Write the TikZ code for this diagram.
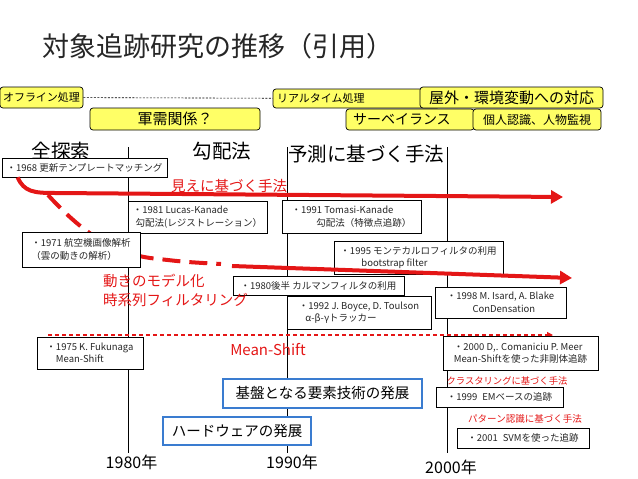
\documentclass[tikz,border=0pt]{standalone}
\usepackage{fontspec}
\setmainfont{Noto Sans CJK JP}
\usepackage{xcolor}
\usetikzlibrary{arrows.meta}
\definecolor{tyellow}{RGB}{255,255,102}
\definecolor{tred}{RGB}{228,22,22}
\definecolor{tblue}{RGB}{58,124,208}

\begin{document}
\begin{tikzpicture}[
  x=1pt, y=-1pt,
  ybox/.style={draw, line width=0.7pt, fill=tyellow, rounded corners=3pt,
    inner sep=0pt, font=\fontsize{11}{13}\selectfont},
  evt/.style={draw, line width=0.7pt, fill=white, align=left, inner sep=0pt,
    text=black!85, font=\fontsize{9.5}{12.5}\selectfont},
  bbox/.style={draw=tblue, line width=2pt, fill=white, inner sep=0pt,
    font=\fontsize{14.5}{16}\selectfont},
  hd/.style={inner sep=0pt, font=\fontsize{19.5}{22}\selectfont},
  yr/.style={inner sep=0pt, font=\fontsize{16}{18}\selectfont},
  rtxt/.style={text=tred, inner sep=0pt},
  era/.style={line width=0.8pt},
  bigarr/.style={tred, line width=4pt, -{Triangle[length=12pt,width=13pt]}},
  thinarr/.style={color=tred, line width=1.2pt, dash pattern=on 4pt off 3pt,
    -{Triangle[length=6pt,width=6pt]}}
]
\useasboundingbox (0,0) rectangle (638,479);

% Title
\node[anchor=west, inner sep=0pt, text=black!85,
  font=\fontsize{27}{30}\selectfont] (title) at (42,46) {対象追跡研究の推移（引用）};

% Time axis
\coordinate (t80) at (128,147);
\coordinate (b80) at (128,453);
\coordinate (t90) at (287,147);
\coordinate (b90) at (287,453);
\coordinate (t00) at (447,147);
\coordinate (b00) at (447,453);
\draw[era] (t80) -- (b80);
\draw[era] (t90) -- (b90);
\draw[era] (t00) -- (b00);
\node[yr] (y80) at (131.5,462) {1980年};
\node[yr] (y90) at (292,462) {1990年};
\node[yr] (y00) at (451,467) {2000年};

% Processing mode
\node[ybox, minimum width=83, minimum height=21] (offline) at (41.5,97.5) {オフライン処理};
\node[ybox, minimum height=19, text width=159, inner xsep=4pt, align=left]
  (realtime) at (356.5,98.5) {リアルタイム処理};
\node[ybox, minimum width=183, minimum height=21, font=\fontsize{15}{17}\selectfont]
  (outdoor) at (511.5,97.5) {屋外・環境変動への対応};
\draw[line width=0.6pt, dash pattern=on 2pt off 1.5pt] (offline) -- (realtime);

% Applications
\node[ybox, minimum width=170, minimum height=22, font=\fontsize{15}{17}\selectfont]
  (military) at (175,119) {軍需関係？};
\node[ybox, minimum height=21, text width=114, inner xsep=7pt, align=left,
  font=\fontsize{14}{16}\selectfont] (surv) at (410,119.5) {サーベイランス};
\node[ybox, minimum width=128, minimum height=21, font=\fontsize{12}{14}\selectfont]
  (person) at (537,119.5) {個人認識、人物監視};

% Headers
\node[hd] (hdfull) at (61,151) {全探索};
\node[hd] (hdgrad) at (222,151) {勾配法};
\node[hd] (hdpred) at (366,154) {予測に基づく手法};

% Monte Carlo (under the red arrow)
\node[evt, minimum width=169, minimum height=33] (e1995) at (418.5,257.5)
  {・1995 モンテカルロフィルタの利用\\\hspace*{2.2em}bootstrap filter};

% Appearance based
\node[evt, minimum width=165, minimum height=19] (e1968) at (84.5,167.5)
  {・1968 更新テンプレートマッチング};
\coordinate (a1e) at (563,197);
\draw[bigarr] ([xshift=16pt]e1968.south west) .. controls (24,192) and (34,193) .. (55,193) -- (a1e);

% Motion model
\coordinate (m0) at (48,195);
\coordinate (m1) at (221,264);
\coordinate (m2) at (232,266);
\coordinate (m3) at (572,278);
\draw[tred, line width=4pt, dash pattern=on 18pt off 9pt]
  (m0) .. controls (80,230) and (110,252) .. (150,258) .. controls (185,262) .. (m1);
\draw[bigarr] (m2) -- (m3);

% Mean-Shift
\coordinate (s0) at (48,335);
\coordinate (s1) at (553,335);
\draw[thinarr] (s0) -- (s1);

% Events
\node[evt, minimum width=139, minimum height=32] (e1981) at (197.5,217)
  {・1981 Lucas-Kanade\\\hspace*{0.3em}勾配法(レジストレーション）};
\node[evt, minimum width=139, minimum height=33] (e1991) at (351.5,216.5)
  {・1991 Tomasi-Kanade\\\hspace*{2.6em}勾配法（特徴点追跡）};
\node[evt, minimum width=118, minimum height=35] (e1971) at (81,249.5)
  {・1971 航空機画像解析\\（雲の動きの解析）};
\node[evt, minimum width=171, minimum height=19] (e1980s) at (318.5,285.5)
  {・1980後半 カルマンフィルタの利用};
\node[evt, minimum width=144, minimum height=33] (e1992) at (359,312.5)
  {・1992 J. Boyce, D. Toulson\\\hspace*{0.7em}α-β-γトラッカー};
\node[evt, minimum width=131, minimum height=31] (e1998) at (500.5,302.5)
  {・1998 M. Isard, A. Blake\\\hspace*{2.7em}ConDensation};
\node[evt, minimum width=106, minimum height=32] (e1975) at (90,353)
  {・1975 K. Fukunaga\\\hspace*{1em}Mean-Shift};
\node[evt, minimum width=155, minimum height=34] (e2000) at (520.5,353)
  {・2000 D,. Comaniciu P. Meer\\Mean-Shiftを使った非剛体追跡};
\node[evt, minimum width=127, minimum height=20] (e1999) at (499.5,397)
  {・1999\enspace EMベースの追跡};
\node[evt, minimum width=132, minimum height=20] (e2001) at (523,438)
  {・2001\enspace SVMを使った追跡};

% Technology
\node[bbox, minimum width=199, minimum height=29] (base) at (322.5,393.5) {基盤となる要素技術の発展};
\node[bbox, minimum width=148, minimum height=28] (hw) at (237,431) {ハードウェアの発展};

% Red labels
\node[rtxt, font=\fontsize{14.5}{16}\selectfont] (lapp) at (229,186) {見えに基づく手法};
\node[rtxt, anchor=west, align=left, font=\fontsize{14.5}{19}\selectfont]
  (lmot) at (103,290.5) {動きのモデル化\\時系列フィルタリング};
\node[rtxt, font=\fontsize{15}{17}\selectfont] (lms) at (268,350) {Mean-Shift};
\node[rtxt, font=\fontsize{9.3}{11}\selectfont] (lclu) at (507,381) {クラスタリングに基づく手法};
\node[rtxt, font=\fontsize{9.5}{11}\selectfont] (lpat) at (525,419) {パターン認識に基づく手法};

\end{tikzpicture}
\end{document}
